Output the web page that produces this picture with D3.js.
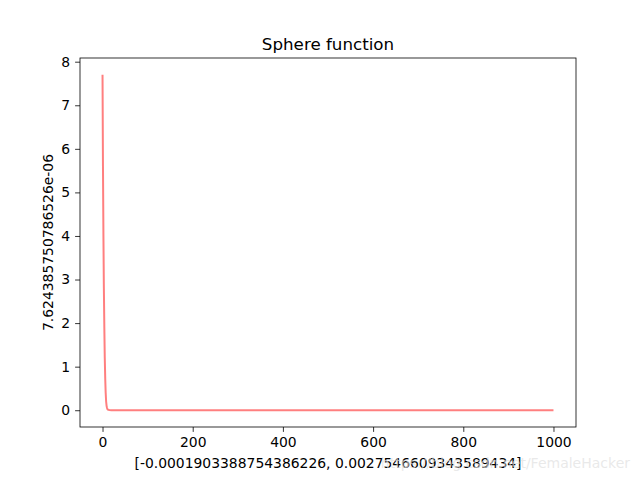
<!DOCTYPE html><html><head><meta charset="utf-8"><script src="https://cdn.jsdelivr.net/npm/d3@7"></script>
<style>body{margin:0;background:#fff}text{font-family:"DejaVu Sans",sans-serif}</style></head><body><svg id="c" width="640" height="480"></svg>
<script>
const iterations=[0,1,2,3,4,5,6,7,8,9,10,11,12,15,20,1000];
const fitness=[7.7,5.6,4.0,2.8,1.9,1.2,0.72,0.4,0.2,0.1,0.05,0.025,0.012,0.004,0.001,0.0];
const xTicks=[0,200,400,600,800,1000];
const yTicks=[0,1,2,3,4,5,6,7,8];
const title="Sphere function";
const xLabel="[-0.0001903388754386226, 0.0027546609343589434]";
const yLabel="7.624385750786526e-06";
const svg=d3.select("#c");
const L=80,R=576,T=58,B=427;
const x=d3.scaleLinear().domain([-49.95,1049.95]).range([L,R]);
const y=d3.scaleLinear().domain([-0.385,8.085]).range([B,T]);
svg.append("path").datum(iterations.map((d,i)=>[d,fitness[i]])).attr("fill","none").attr("stroke","#ff0000").attr("stroke-opacity",0.5).attr("stroke-width",2)
 .attr("d",d3.line().x(d=>x(d[0])).y(d=>y(d[1])));
const gx=svg.append("g").attr("transform",`translate(0,${B})`).call(d3.axisBottom(x).tickValues(xTicks).tickFormat(d3.format("d")).tickSize(4.9).tickPadding(4.9));
const gy=svg.append("g").attr("transform",`translate(${L},0)`).call(d3.axisLeft(y).tickValues(yTicks).tickFormat(d3.format("d")).tickSize(4.9).tickPadding(4.9));
[gx,gy].forEach(g=>{g.select(".domain").remove();g.selectAll("text").attr("font-size",13.9).attr("font-family","DejaVu Sans").attr("fill","#000");g.selectAll("line").attr("stroke","#000").attr("stroke-width",0.8);});
svg.append("rect").attr("x",L).attr("y",T).attr("width",R-L).attr("height",B-T).attr("fill","none").attr("stroke","#000").attr("stroke-width",0.8);
svg.append("text").attr("x",(L+R)/2).attr("y",T-8).attr("text-anchor","middle").attr("font-size",16.7).text(title);
svg.append("text").attr("x",(L+R)/2).attr("y",468).attr("text-anchor","middle").attr("font-size",13.9).text(xLabel);
svg.append("text").attr("transform",`translate(53,${(T+B)/2}) rotate(-90)`).attr("text-anchor","middle").attr("font-size",13.9).text(yLabel);
svg.append("text").attr("x",630).attr("y",468).attr("text-anchor","end").attr("font-size",14).attr("fill","#e0e0e0").attr("fill-opacity",0.7).text("https://blog.csdn.net/FemaleHacker");
</script></body></html>
